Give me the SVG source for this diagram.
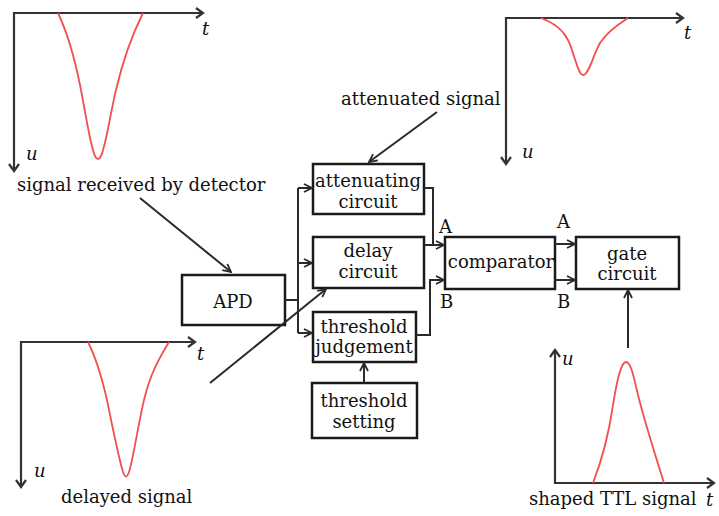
<svg xmlns="http://www.w3.org/2000/svg" width="719" height="516" viewBox="0 0 719 516">
  <style>
    .box { fill: #ffffff; stroke: #1a1a1a; stroke-width: 2.5; }
    .lbl { font-family: "DejaVu Serif", "Liberation Serif", serif; font-size: 18px; fill: #111111; text-anchor: middle; }
    .cap { font-family: "DejaVu Serif", "Liberation Serif", serif; font-size: 18px; fill: #111111; }
    .var { font-family: "DejaVu Serif", "Liberation Serif", serif; font-style: italic; font-size: 18px; fill: #111111; }
    .wire { fill: none; stroke: #2a2a2a; stroke-width: 2; }
    .axis { fill: none; stroke: #333333; stroke-width: 2.2; }
    .wave { fill: none; stroke: #f05050; stroke-width: 1.8; }
  </style>
  <defs>
    <marker id="head" viewBox="0 0 10 10" refX="9" refY="5" markerWidth="10" markerHeight="10" markerUnits="userSpaceOnUse" orient="auto">
      <path d="M1,1 L9,5 L1,9" fill="none" stroke="#2a2a2a" stroke-width="1.8"/>
    </marker>
  </defs>

  <!-- received signal waveform -->
  <g id="plot-received">
    <path class="axis" d="M203,13 H14 V171" />
    <path class="axis" d="M196,8 L203,13 L196,18 M9,164 L14,171 L19,164" />
    <path class="wave" d="M58,13 C66,30 74,55 80,85 C86,115 90,145 95,156 Q98,162 101,156 C106,145 110,115 116,90 C123,60 132,35 143,13" />
    <text class="var" x="202" y="35">t</text>
    <text class="var" x="26" y="160">u</text>
    <text class="cap" x="17" y="191">signal received by detector</text>
  </g>

  <!-- attenuated signal waveform -->
  <g id="plot-attenuated">
    <path class="axis" d="M683,18 H506 V164" />
    <path class="axis" d="M676,13 L683,18 L676,23 M501,157 L506,164 L511,157" />
    <path class="wave" d="M541,18 C552,22 562,28 568,40 C574,52 578,75 583,75 C589,75 593,55 600,43 C607,32 617,25 628,18" />
    <text class="var" x="684" y="39">t</text>
    <text class="var" x="522" y="158">u</text>
    <text class="cap" x="341" y="105">attenuated signal</text>
  </g>

  <!-- delayed signal waveform -->
  <g id="plot-delayed">
    <path class="axis" d="M195,342 H21 V487" />
    <path class="axis" d="M188,337 L195,342 L188,347 M16,480 L21,487 L26,480" />
    <path class="wave" d="M88,342 C96,358 102,378 107,400 C112,425 118,455 123,472 Q126,481 129,472 C134,455 138,425 144,400 C150,375 158,360 169,342" />
    <text class="var" x="197" y="360">t</text>
    <text class="var" x="34" y="477">u</text>
    <text class="cap" x="61" y="503">delayed signal</text>
  </g>

  <!-- shaped TTL waveform -->
  <g id="plot-ttl">
    <path class="axis" d="M555,350 V483 H714" />
    <path class="axis" d="M550,357 L555,350 L560,357 M707,478 L714,483 L707,488" />
    <path class="wave" d="M593,483 C600,465 608,440 613,405 C617,380 621,362 626,362 C631,362 634,378 638,395 C643,415 652,445 664,483" />
    <text class="var" x="562" y="365">u</text>
    <text class="var" x="706" y="506">t</text>
    <text class="cap" x="529" y="505">shaped TTL signal</text>
  </g>

  <!-- blocks -->
  <g id="apd">
    <rect class="box" x="182" y="275" width="103" height="50" />
    <text class="lbl" x="233" y="308">APD</text>
  </g>
  <g id="attenuating-circuit">
    <rect class="box" x="313" y="164" width="111" height="50" />
    <text class="lbl" x="368" y="187">attenuating</text>
    <text class="lbl" x="368" y="208">circuit</text>
  </g>
  <g id="delay-circuit">
    <rect class="box" x="313" y="237" width="111" height="51" />
    <text class="lbl" x="368" y="257">delay</text>
    <text class="lbl" x="368" y="278">circuit</text>
  </g>
  <g id="threshold-judgement">
    <rect class="box" x="313" y="312" width="103" height="50" />
    <text class="lbl" x="364" y="333">threshold</text>
    <text class="lbl" x="364" y="353">judgement</text>
  </g>
  <g id="threshold-setting">
    <rect class="box" x="312" y="383" width="105" height="55" />
    <text class="lbl" x="364" y="407">threshold</text>
    <text class="lbl" x="364" y="428">setting</text>
  </g>
  <g id="comparator">
    <rect class="box" x="445" y="237" width="110" height="52" />
    <text class="lbl" x="501" y="268">comparator</text>
  </g>
  <g id="gate-circuit">
    <rect class="box" x="576" y="237" width="103" height="52" />
    <text class="lbl" x="627" y="260">gate</text>
    <text class="lbl" x="627" y="280">circuit</text>
  </g>

  <!-- connectors -->
  <g id="connectors">
    <path class="wire" d="M140,198 L231,272" marker-end="url(#head)" />
    <path class="wire" d="M437,112 L369,162" marker-end="url(#head)" />
    <path class="wire" d="M210,383 L326,289" marker-end="url(#head)" />
    <path class="wire" d="M285,300 H298 M298,188 V333" />
    <path class="wire" d="M298,188 H312" marker-end="url(#head)" />
    <path class="wire" d="M298,263 H312" marker-end="url(#head)" />
    <path class="wire" d="M298,333 H312" marker-end="url(#head)" />
    <path class="wire" d="M424,188 H433 V245" />
    <path class="wire" d="M424,245 H444" marker-end="url(#head)" />
    <path class="wire" d="M416,335 H430 V280 H444" marker-end="url(#head)" />
    <path class="wire" d="M555,244 H575" marker-end="url(#head)" />
    <path class="wire" d="M555,280 H575" marker-end="url(#head)" />
    <path class="wire" d="M364,383 V363" marker-end="url(#head)" />
    <path class="wire" d="M628,348 V290" marker-end="url(#head)" />
    <text class="cap" x="439" y="233">A</text>
    <text class="cap" x="440" y="308">B</text>
    <text class="cap" x="557" y="228">A</text>
    <text class="cap" x="557" y="308">B</text>
  </g>
</svg>
